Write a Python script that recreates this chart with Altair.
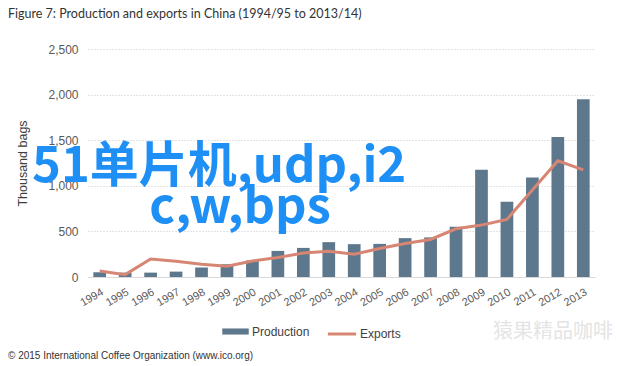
import altair as alt
import pandas as pd

years = [str(y) for y in range(1994, 2014)]
production = [52, 48, 48, 59, 104, 140, 181, 286, 319, 382, 360, 363, 426, 434, 551, 1175, 826, 1090, 1535, 1949]
exports = [66, 26, 198, 173, 140, 118, 176, 213, 264, 283, 250, 313, 368, 412, 529, 569, 632, 955, 1274, 1175]

title_text = "Figure 7: Production and exports in China (1994/95 to 2013/14)"
footer_text = "\u00a9 2015 International Coffee Organization (www.ico.org)"
wm_line1 = "51单片机,udp,i2"
wm_line2 = "c,w,bps"
wm_brand = "猿果精品咖啡"

BAR_COLOR = "#5d778c"
LINE_COLOR = "#d68672"
AXIS_FONT = "Liberation Sans"

df = pd.DataFrame({"Year": years, "Production": production, "Exports": exports})
df["S1"] = "Production"
df["S2"] = "Exports"

xenc = alt.X(
    "Year:O",
    sort=years,
    title=None,
    scale=alt.Scale(paddingInner=0.5, paddingOuter=0.21),
    axis=alt.Axis(
        labelAngle=-30, labelAlign="right", labelBaseline="top", labelPadding=9,
        labelFont=AXIS_FONT, labelFontSize=11, labelColor="#595959",
        ticks=False, domain=True, domainColor="#d9d9d9", grid=False,
    ),
)

bars = alt.Chart(df).mark_bar(size=12.7).encode(
    x=xenc,
    y=alt.Y(
        "Production:Q",
        scale=alt.Scale(domain=[0, 2500], nice=False),
        title="Thousand bags",
        axis=alt.Axis(
            values=[0, 500, 1000, 1500, 2000, 2500], format=",.0f",
            labelFont=AXIS_FONT, labelFontSize=12, labelColor="#595959", labelPadding=10,
            ticks=False, domain=False,
            grid=True, gridColor="#c8c8c8", gridDash=[1, 2], gridWidth=1,
            titleFont=AXIS_FONT, titleFontSize=12.5, titleFontWeight="normal", titleColor="#404040",
            titlePadding=18,
        ),
    ),
    fill=alt.Fill(
        "S1:N",
        scale=alt.Scale(domain=["Production"], range=[BAR_COLOR]),
        legend=alt.Legend(
            title=None, orient="none", legendX=134, legendY=269, padding=0,
            symbolType="M-1,-0.23H1V0.23H-1Z", symbolSize=700, symbolStrokeWidth=0,
            labelFont=AXIS_FONT, labelFontSize=12, labelColor="#404040", labelOffset=3,
        ),
    ),
)

line = alt.Chart(df).mark_line(strokeWidth=3).encode(
    x=alt.X("Year:O", sort=years),
    y=alt.Y("Exports:Q"),
    stroke=alt.Stroke(
        "S2:N",
        scale=alt.Scale(domain=["Exports"], range=[LINE_COLOR]),
        legend=alt.Legend(
            title=None, orient="none", legendX=238, legendY=269, padding=0,
            symbolType="stroke", symbolSize=800, symbolStrokeWidth=3,
            labelFont=AXIS_FONT, labelFontSize=12, labelColor="#404040", labelOffset=2,
        ),
    ),
)

one = pd.DataFrame({"a": [0]})

title = alt.Chart(one).mark_text(
    text=title_text, font="Lato", fontSize=12.5, color="#333333",
    align="left", baseline="alphabetic",
).encode(x=alt.value(-80), y=alt.value(-31))

footer = alt.Chart(one).mark_text(
    text=footer_text, font=AXIS_FONT, fontSize=10, color="#333333",
    align="left", baseline="alphabetic",
).encode(x=alt.value(-80), y=alt.value(310))

brand = alt.Chart(one).mark_text(
    text=wm_brand, font="Noto Sans CJK SC", fontSize=20, color="#e4e4e4",
    align="left", baseline="middle",
).encode(x=alt.value(405), y=alt.value(283))

wm1 = alt.Chart(one).mark_text(
    text=wm_line1, font="Noto Sans CJK SC", fontSize=49, fontWeight="bold", color="#1e8ff5",
    align="left", baseline="alphabetic",
).encode(x=alt.value(-56), y=alt.value(133))

wm2 = alt.Chart(one).mark_text(
    text=wm_line2, font="Noto Sans CJK SC", fontSize=49, fontWeight="bold", color="#1e8ff5",
    align="center", baseline="alphabetic",
).encode(x=alt.value(152), y=alt.value(174))

chart = alt.layer(bars, line, title, footer, brand, wm1, wm2).resolve_scale(
    fill="independent", stroke="independent"
).properties(
    width=507,
    height=228,
    autosize=alt.AutoSizeParams(type="none"),
    padding={"left": 80, "top": 41, "right": 30, "bottom": 84},
).configure_view(stroke=None)

chart.save("out.html", embed_options={"renderer": "svg", "actions": False})
